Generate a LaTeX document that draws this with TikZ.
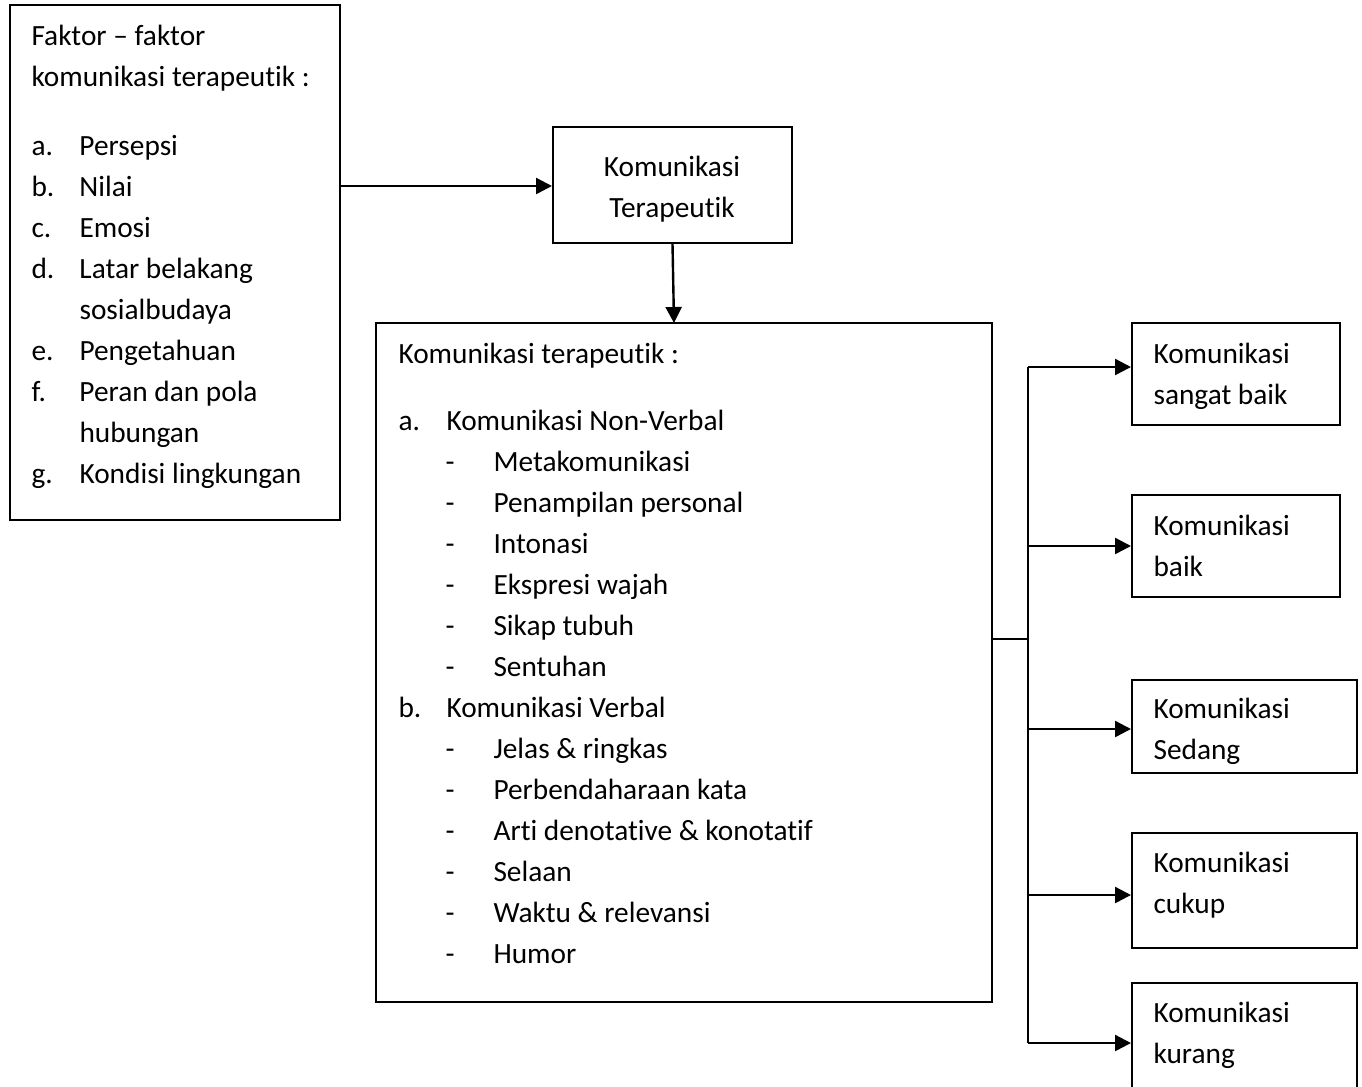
\documentclass[tikz,border=0pt]{standalone}
\usepackage{fontspec}
\setmainfont{Carlito}[Ligatures={NoCommon}]
\usetikzlibrary{arrows.meta,fit}
\newcommand\boxnode[5]{\path (#2,#3) coordinate (#1-nw) (#4,#5) coordinate (#1-se); \node[box,fit=(#1-nw)(#1-se)] (#1) {};}
\newcommand\tline[4]{\node[txt] (#1) at (#2,#3) {#4};}
\newcommand\lab[1]{\makebox[18pt][l]{#1}}
\begin{document}
\begin{tikzpicture}[x=0.375pt,y=-0.375pt,
  box/.style={draw,line width=0.75pt,inner sep=0pt},
  txt/.style={anchor=base west,inner sep=0pt,font=\fontsize{11pt}{13pt}\selectfont},
  ctxt/.style={txt,anchor=base},
  arr/.style={line width=0.9pt,-{Triangle[length=6pt,width=6pt]}},
  conn/.style={line width=0.9pt}]
\clip (0,0) rectangle (1362,1086);
\fill[white] (0,0) rectangle (1362,1086);
% boxes
\boxnode{A}{10}{5}{340}{520}
\boxnode{B}{553}{127}{792}{243}
\boxnode{C}{376}{323}{992}{1002}
\boxnode{R1}{1132}{323}{1340}{425}
\boxnode{R2}{1132}{495}{1340}{597}
\boxnode{R3}{1132}{680}{1357}{773}
\boxnode{R4}{1132}{833}{1357}{948}
\boxnode{R5}{1132}{983}{1357}{1120}
% box A text
\tline{a0}{31}{45}{Faktor – faktor}
\tline{a00}{31}{86}{komunikasi terapeutik :}
\tline{aa}{31}{155}{\lab{a.}Persepsi}
\tline{ab}{31}{196}{\lab{b.}Nilai}
\tline{ac}{31}{237}{\lab{c.}Emosi}
\tline{ad}{31}{278}{\lab{d.}Latar belakang}
\tline{ad2}{79}{319}{sosialbudaya}
\tline{ae}{31}{360}{\lab{e.}Pengetahuan}
\tline{af}{31}{401}{\lab{f.}Peran dan pola}
\tline{af2}{79}{442}{hubungan}
\tline{ag}{31}{483}{\lab{g.}Kondisi lingkungan}
% box B text
\node[ctxt] (b1) at (672,176) {Komunikasi};
\node[ctxt] (b2) at (672,217) {Terapeutik};
% box C text
\tline{c0}{398}{363}{Komunikasi terapeutik :}
\tline{ca}{398}{430}{\lab{a.}Komunikasi Non-Verbal}
\tline{ca1}{445}{471}{\lab{-}Metakomunikasi}
\tline{ca2}{445}{512}{\lab{-}Penampilan personal}
\tline{ca3}{445}{553}{\lab{-}Intonasi}
\tline{ca4}{445}{594}{\lab{-}Ekspresi wajah}
\tline{ca5}{445}{635}{\lab{-}Sikap tubuh}
\tline{ca6}{445}{676}{\lab{-}Sentuhan}
\tline{cb}{398}{717}{\lab{b.}Komunikasi Verbal}
\tline{cb1}{445}{758}{\lab{-}Jelas \& ringkas}
\tline{cb2}{445}{799}{\lab{-}Perbendaharaan kata}
\tline{cb3}{445}{840}{\lab{-}Arti denotative \& konotatif}
\tline{cb4}{445}{881}{\lab{-}Selaan}
\tline{cb5}{445}{922}{\lab{-}Waktu \& relevansi}
\tline{cb6}{445}{963}{\lab{-}Humor}
% right boxes text
\tline{r1a}{1153}{363}{Komunikasi}
\tline{r1b}{1153}{404}{sangat baik}
\tline{r2a}{1153}{535}{Komunikasi}
\tline{r2b}{1153}{576}{baik}
\tline{r3a}{1153}{718}{Komunikasi}
\tline{r3b}{1153}{759}{Sedang}
\tline{r4a}{1153}{872}{Komunikasi}
\tline{r4b}{1153}{913}{cukup}
\tline{r5a}{1153}{1022}{Komunikasi}
\tline{r5b}{1153}{1063}{kurang}
% connectors
\coordinate (aout) at (340,186);
\draw[arr] (aout) -- (aout -| B.west);
\coordinate (cin) at (674,323);
\draw[arr] (B.south) -- (cin);
\coordinate (cout) at (992,639);
\coordinate (bus) at (1028,639);
\draw[conn] (cout) -- (bus);
\coordinate (p1) at (1028,367);
\coordinate (p2) at (1028,546);
\coordinate (p3) at (1028,729);
\coordinate (p4) at (1028,895);
\coordinate (p5) at (1028,1043);
\draw[conn] (p1) -- (p5);
\draw[arr] (p1) -- (p1 -| R1.west);
\draw[arr] (p2) -- (p2 -| R2.west);
\draw[arr] (p3) -- (p3 -| R3.west);
\draw[arr] (p4) -- (p4 -| R4.west);
\draw[arr] (p5) -- (p5 -| R5.west);
\end{tikzpicture}
\end{document}
